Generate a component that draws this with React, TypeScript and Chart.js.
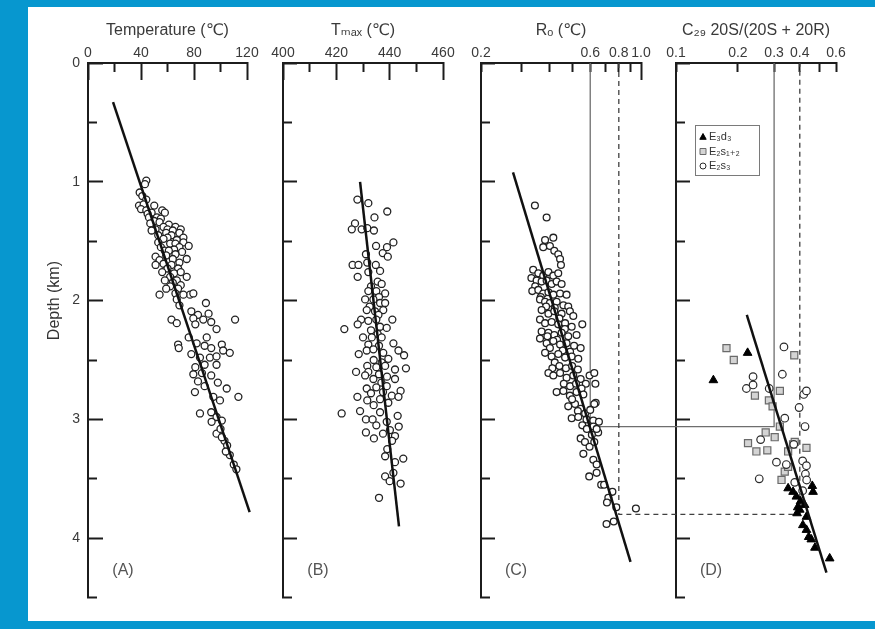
import React, { useEffect, useRef } from 'react';
import { Chart, registerables } from 'chart.js';

Chart.register(...registerables);

// ---------------- axis ticks / labels ----------------
const tempTickValues = [0, 20, 40, 60, 80, 100, 120];
const tempLabelValues = [0, 40, 80, 120];
const tmaxTickValues = [400, 410, 420, 430, 440, 450, 460];
const tmaxLabelValues = [400, 420, 440, 460];
const roTickValues = [0.2, 0.3, 0.4, 0.5, 0.6, 0.7, 0.8, 0.9, 1.0];
const roLabelValues = [0.2, 0.6, 0.8, 1.0];
const roLongValues = [1.0];
const c29TickValues = [0.1, 0.2, 0.3, 0.4, 0.5, 0.6];
const c29LabelValues = [0.1, 0.2, 0.3, 0.4, 0.6];
const depthTickValues = [0, 0.5, 1, 1.5, 2, 2.5, 3, 3.5, 4, 4.5];
const depthLabelValues = [0, 1, 2, 3, 4];

const panelTitles = ['Temperature (℃)', 'Tₘₐₓ (℃)', 'Rₒ (℃)', 'C₂₉ 20S/(20S + 20R)'];
const panelLetters = ['(A)', '(B)', '(C)', '(D)'];
const depthTitle = 'Depth (km)';
const legendLabels = ['E₃d₃', 'E₂s₁₊₂', 'E₂s₃'];

// ---------------- data: [x, depth km] ----------------
type Pt = [number, number];

const tempPoints: Pt[] = [
  [44, 0.99], [43, 1.02], [39, 1.09], [41, 1.12], [44, 1.15], [38.5, 1.2], [42, 1.19], [40, 1.23], [44, 1.24], [50, 1.2],
  [48, 1.26], [45, 1.27], [46, 1.3], [52, 1.3], [56, 1.24], [58, 1.26], [50, 1.33], [55, 1.31], [54, 1.34], [47, 1.35],
  [61, 1.36], [66, 1.38], [57, 1.38], [51, 1.4], [48, 1.41], [60, 1.4], [64, 1.41], [70, 1.4], [59, 1.43], [69, 1.43],
  [63, 1.45], [53, 1.45], [72, 1.47], [60, 1.47], [67, 1.49], [57, 1.48], [53, 1.51], [62, 1.52], [66, 1.52], [72, 1.51],
  [76, 1.54], [69, 1.55], [55, 1.55], [65, 1.57], [58, 1.58], [61, 1.58], [71, 1.59], [51, 1.63], [59, 1.62], [66, 1.61],
  [74.5, 1.65], [54, 1.66], [64, 1.65], [69, 1.68], [51, 1.7], [57, 1.69], [63, 1.7], [68, 1.73], [60, 1.73], [56, 1.76],
  [65, 1.77], [70, 1.76], [62, 1.8], [58, 1.83], [67, 1.83], [74.5, 1.8], [64, 1.85], [62, 1.88], [70, 1.87], [68, 1.9],
  [59, 1.9], [54, 1.95], [77, 1.95], [79.5, 1.94], [66, 1.94], [72, 1.95],
  [89, 2.02], [67, 1.99], [69, 2.04], [78, 2.09], [83, 2.12], [91, 2.11], [79.5, 2.15], [87, 2.16], [93, 2.18], [63, 2.16],
  [67, 2.19], [81, 2.2], [111, 2.16], [97, 2.24],
  [76, 2.31], [89.6, 2.31], [68, 2.37], [68.5, 2.4], [82, 2.36], [88, 2.38], [93, 2.4], [101, 2.37], [107, 2.44], [102, 2.42],
  [78, 2.45], [84.5, 2.48], [92, 2.48], [97, 2.47],
  [81, 2.56], [88, 2.54], [97, 2.54], [79.5, 2.62], [86, 2.61], [93, 2.63], [83, 2.68], [88, 2.72], [98, 2.69], [104.7, 2.74],
  [80.7, 2.77], [113.5, 2.81], [94.6, 2.81], [99.6, 2.84], [84.5, 2.95], [93, 2.94], [97, 2.98], [101, 3.01], [93.3, 3.02], [97, 3.12],
  [100, 3.08], [103, 3.18], [105, 3.22], [107, 3.3], [110, 3.38], [112, 3.42], [104, 3.27], [101, 3.15],
];

const tmaxPoints: Pt[] = [
  [427.9, 1.15], [432, 1.18], [439.1, 1.25], [434.3, 1.3], [427, 1.35], [425.8, 1.4], [429.5, 1.4], [431.6, 1.39], [434.1, 1.41],
  [441.4, 1.51], [434.9, 1.54], [439, 1.55], [437.4, 1.6], [431.1, 1.61], [439.3, 1.63], [426.1, 1.7], [428.3, 1.7], [431.6, 1.68],
  [434.8, 1.7], [428, 1.8], [432, 1.76], [436.4, 1.75], [435.5, 1.84], [437, 1.86], [433, 1.88], [432, 1.92], [435, 1.92],
  [438.3, 1.94], [436, 1.97], [430.8, 1.99], [433.9, 1.99], [436.4, 2.02], [438.3, 2.02], [432.5, 2.05], [431.4, 2.08], [434.5, 2.09],
  [437.6, 2.08], [435.8, 2.12], [441, 2.16], [429.3, 2.16], [428, 2.2], [423, 2.24], [432, 2.17], [435, 2.16], [436.4, 2.22],
  [438.9, 2.23], [433, 2.25], [435.5, 2.28], [430, 2.31], [433.3, 2.31], [437, 2.31], [432, 2.37], [436, 2.38], [441.4, 2.36],
  [443.3, 2.42], [445.4, 2.46], [428.4, 2.45], [431.4, 2.42], [433.9, 2.41], [437.6, 2.44], [439.5, 2.49], [434, 2.5], [437, 2.52],
  [427.4, 2.6], [431.6, 2.55], [435, 2.56], [438.3, 2.55], [442, 2.58], [446.1, 2.57], [432, 2.6], [436, 2.62], [439, 2.64],
  [430.8, 2.63], [433.9, 2.66], [442, 2.66], [436.9, 2.69], [431.4, 2.74], [435, 2.73], [438.9, 2.72], [444.1, 2.76], [433, 2.78],
  [437.5, 2.77], [427.9, 2.81], [431.6, 2.84], [436.4, 2.83], [440.8, 2.8], [443.3, 2.81], [434, 2.88], [439.5, 2.86], [422, 2.95],
  [428.9, 2.93], [431.1, 3.0], [433.6, 3.0], [436.4, 2.94], [438.9, 3.02], [443, 2.97], [435, 3.05], [437.5, 3.12], [431.1, 3.11],
  [434.1, 3.16], [440.1, 3.09], [443.4, 3.06], [442, 3.14], [440.9, 3.18], [439.1, 3.25], [438.3, 3.31], [442, 3.36], [445.1, 3.33],
  [438.3, 3.48], [440, 3.52], [441.4, 3.45], [444.1, 3.54], [436, 3.66],
];

const roPoints: Pt[] = [
  [0.344, 1.2], [0.387, 1.3], [0.414, 1.47], [0.381, 1.49], [0.374, 1.55], [0.4, 1.54], [0.418, 1.58], [0.435, 1.61], [0.443, 1.65],
  [0.447, 1.7], [0.338, 1.74], [0.356, 1.77], [0.374, 1.79], [0.394, 1.76], [0.414, 1.79], [0.435, 1.77], [0.332, 1.81], [0.35, 1.83],
  [0.368, 1.84], [0.387, 1.83], [0.407, 1.86], [0.428, 1.84], [0.45, 1.86], [0.345, 1.88], [0.335, 1.92], [0.356, 1.91], [0.374, 1.94],
  [0.394, 1.93], [0.414, 1.95], [0.443, 1.94], [0.473, 1.95], [0.365, 1.97], [0.362, 1.99], [0.381, 2.01], [0.4, 2.02], [0.428, 2.01],
  [0.458, 2.04], [0.481, 2.05], [0.385, 2.05], [0.42, 2.06], [0.368, 2.08], [0.394, 2.11], [0.418, 2.09], [0.45, 2.11], [0.489, 2.09],
  [0.506, 2.13], [0.44, 2.15], [0.362, 2.16], [0.381, 2.19], [0.407, 2.18], [0.435, 2.2], [0.466, 2.19], [0.498, 2.22], [0.554, 2.2],
  [0.465, 2.24], [0.368, 2.26], [0.394, 2.27], [0.418, 2.29], [0.45, 2.27], [0.481, 2.3], [0.523, 2.29], [0.39, 2.3], [0.362, 2.32],
  [0.43, 2.33], [0.387, 2.36], [0.414, 2.34], [0.443, 2.37], [0.473, 2.36], [0.51, 2.38], [0.545, 2.4], [0.4, 2.4], [0.455, 2.42],
  [0.49, 2.43], [0.381, 2.44], [0.407, 2.47], [0.435, 2.45], [0.466, 2.48], [0.498, 2.47], [0.532, 2.49], [0.42, 2.52], [0.44, 2.55],
  [0.47, 2.57], [0.5, 2.55], [0.53, 2.58], [0.41, 2.57], [0.394, 2.61], [0.414, 2.63], [0.443, 2.61], [0.473, 2.65], [0.506, 2.63],
  [0.545, 2.66], [0.574, 2.7], [0.596, 2.63], [0.625, 2.61], [0.632, 2.7], [0.46, 2.7], [0.49, 2.72], [0.52, 2.7], [0.55, 2.74],
  [0.428, 2.77], [0.458, 2.76], [0.489, 2.8], [0.523, 2.77], [0.56, 2.79], [0.634, 2.86], [0.625, 2.87], [0.481, 2.89], [0.515, 2.87],
  [0.545, 2.91], [0.5, 2.83], [0.53, 2.93], [0.57, 2.95], [0.6, 2.92], [0.498, 2.99], [0.532, 2.98], [0.578, 3.0], [0.619, 3.01],
  [0.655, 3.02], [0.554, 3.05], [0.619, 3.06], [0.65, 3.11], [0.64, 3.08], [0.58, 3.08], [0.61, 3.13], [0.545, 3.16], [0.569, 3.19],
  [0.56, 3.29], [0.596, 3.23], [0.625, 3.19], [0.619, 3.34], [0.64, 3.38], [0.594, 3.48], [0.64, 3.45], [0.67, 3.55], [0.69, 3.55],
  [0.75, 3.61], [0.72, 3.66], [0.71, 3.7], [0.78, 3.74], [0.95, 3.75], [0.707, 3.88], [0.76, 3.86],
];

const c29TrianglePoints: Pt[] = [
  [0.223, 2.44], [0.152, 2.67], [0.351, 3.58], [0.371, 3.61], [0.46, 3.56], [0.464, 3.61], [0.385, 3.65], [0.403, 3.69],
  [0.422, 3.72], [0.391, 3.74], [0.4, 3.76], [0.388, 3.79], [0.431, 3.82], [0.414, 3.89], [0.431, 3.93], [0.442, 3.99],
  [0.455, 4.01], [0.474, 4.08], [0.559, 4.17],
];
const c29SquarePoints: Pt[] = [
  [0.176, 2.4], [0.191, 2.5], [0.376, 2.46], [0.242, 2.8], [0.32, 2.76], [0.283, 2.84], [0.295, 2.89], [0.32, 3.06], [0.273, 3.11],
  [0.224, 3.2], [0.246, 3.27], [0.278, 3.26], [0.302, 3.15], [0.351, 3.27], [0.371, 3.21], [0.431, 3.24], [0.326, 3.51],
  [0.338, 3.44], [0.351, 3.4], [0.378, 3.19],
];
const c29CirclePoints: Pt[] = [
  [0.335, 2.39], [0.329, 2.62], [0.237, 2.64], [0.22, 2.74], [0.237, 2.71], [0.284, 2.74], [0.418, 2.79], [0.431, 2.76],
  [0.397, 2.9], [0.338, 2.99], [0.424, 3.06], [0.258, 3.17], [0.374, 3.21], [0.308, 3.36], [0.413, 3.35], [0.431, 3.39],
  [0.426, 3.46], [0.432, 3.51], [0.254, 3.5], [0.344, 3.38], [0.378, 3.53], [0.413, 3.6],
];

// trend lines
const tempTrend: Pt[] = [[18.9, 0.33], [122, 3.78]];
const tmaxTrend: Pt[] = [[428.9, 1.0], [443.5, 3.9]];
const roTrend: Pt[] = [[0.276, 0.92], [0.9, 4.2]];
const c29Trend: Pt[] = [[0.221, 2.12], [0.539, 4.29]];

// guide lines linking panel C and D (Ro value, C29 value, depth)
const guideRo = [0.6, 0.8];
const guideC29 = [0.3, 0.4];
const guideDepth = [3.06, 3.8];
const letterDepth = 4.27;

// ---------------- styling ----------------
const AXIS = '#1c1c1c';
const TEXT = '#3a3a3a';
const FONT = "'Liberation Sans', Arial, 'DejaVu Sans', sans-serif";
const TOP_H = 63;
const LEFT_W = 88;

const toXY = (pts: Pt[]) => pts.map(([x, y]) => ({ x, y }));

function topAxis(
  type: string, min: number, max: number, weight: number,
  tickValues: number[], labelValues: number[], longValues: number[], title: string, digits: number,
) {
  const isShort = (c: any) => c && c.tick && !longValues.includes(c.tick.value);
  return {
    type, axis: 'x', position: 'top', stack: 'panels', stackWeight: weight,
    min, max, bounds: 'data', offset: false,
    afterBuildTicks: (s: any) => { s.ticks = tickValues.map((value) => ({ value })); },
    afterFit: (s: any) => { s.height = TOP_H; },
    border: { display: true, color: AXIS, width: 2 },
    grid: {
      display: true, drawOnChartArea: false, drawTicks: true, tickLength: -17, tickWidth: 2, tickColor: AXIS,
      tickBorderDash: (c: any) => (isShort(c) ? [10, 100] : []),
      tickBorderDashOffset: (c: any) => (isShort(c) ? 102 : 0),
    },
    ticks: {
      autoSkip: false, maxRotation: 0, minRotation: 0, padding: 18, color: TEXT,
      font: { family: FONT, size: 14 },
      callback: (v: any) => (labelValues.includes(Number(v)) ? Number(v).toFixed(digits) : ''),
    },
    title: {
      display: true, text: title, color: TEXT,
      font: { family: FONT, size: 16 }, padding: { top: 21, bottom: 0 },
    },
  };
}

function gapAxis(weight: number) {
  return {
    type: 'linear', axis: 'x', position: 'top', stack: 'panels', stackWeight: weight,
    display: false, min: 0, max: 1,
    afterFit: (s: any) => { s.height = 0; },
  };
}

function depthAxis(position: any, labelled: boolean) {
  const isShort = (c: any) => c && c.tick && !depthLabelValues.includes(c.tick.value);
  const cfg: any = {
    type: 'linear', axis: 'y', position, min: 0, max: 4.5, reverse: true, bounds: 'data',
    afterBuildTicks: (s: any) => { s.ticks = depthTickValues.map((value) => ({ value })); },
    border: { display: true, color: AXIS, width: 2 },
    grid: {
      display: true, drawOnChartArea: false, drawTicks: true, tickLength: -15, tickWidth: 2, tickColor: AXIS,
      tickBorderDash: (c: any) => (isShort(c) ? [10, 100] : []),
      tickBorderDashOffset: (c: any) => (isShort(c) ? (labelled ? 104 : 0) : 0),
    },
    ticks: {
      display: labelled, autoSkip: false, padding: 23, color: TEXT,
      font: { family: FONT, size: 14 },
      callback: (v: any) => (depthLabelValues.includes(Number(v)) ? String(v) : ''),
    },
  };
  if (labelled) cfg.afterFit = (s: any) => { s.width = LEFT_W; };
  return cfg;
}

const circleStyle = {
  pointStyle: 'circle', pointRadius: 3.5, pointBorderWidth: 1.3,
  pointBorderColor: '#222', pointBackgroundColor: '#ffffff', order: 2, clip: false,
};
const trendStyle = {
  showLine: true, pointRadius: 0, borderColor: '#111', borderWidth: 2.5, order: 0, fill: false, clip: false,
};

const panelPlugin = {
  id: 'panelPlugin',
  beforeDatasetsDraw(chart: any) {
    const { ctx, scales } = chart;
    const y = scales.yA;
    guideDepth.forEach((d, i) => {
      const xa = scales.xC.getPixelForValue(guideRo[i]);
      const xb = scales.xD.getPixelForValue(guideC29[i]);
      const y0 = y.getPixelForValue(0);
      const y1 = y.getPixelForValue(d);
      ctx.save();
      ctx.strokeStyle = i === 0 ? '#6e6e6e' : '#404040';
      ctx.lineWidth = 1.3;
      ctx.setLineDash(i === 0 ? [] : [5, 4]);
      ctx.beginPath();
      ctx.moveTo(xa, y0);
      ctx.lineTo(xa, y1);
      ctx.lineTo(xb, y1);
      ctx.lineTo(xb, y0);
      ctx.stroke();
      ctx.restore();
    });
  },
  afterDraw(chart: any) {
    const { ctx, scales, chartArea } = chart;
    const y = scales.yA;
    ctx.save();
    ctx.fillStyle = '#333';
    ctx.font = `16px ${FONT}`;
    ctx.textAlign = 'center';
    ctx.textBaseline = 'middle';
    ctx.translate(chartArea.left - 33, y.getPixelForValue(2));
    ctx.rotate(-Math.PI / 2);
    ctx.fillText(depthTitle, 0, 0);
    ctx.restore();

    ctx.save();
    ctx.fillStyle = '#555';
    ctx.font = `16px ${FONT}`;
    ctx.textAlign = 'center';
    ctx.textBaseline = 'middle';
    ['xA', 'xB', 'xC', 'xD'].forEach((id, i) => {
      ctx.fillText(panelLetters[i], scales[id].left + 35, y.getPixelForValue(letterDepth));
    });
    ctx.restore();

    // legend inside panel D
    const lx = scales.xD.left + 19;
    const ly = chartArea.top + 62;
    ctx.save();
    ctx.fillStyle = '#fff';
    ctx.fillRect(lx, ly, 64, 50);
    ctx.strokeStyle = '#7a7a7a';
    ctx.lineWidth = 1;
    ctx.strokeRect(lx + 0.5, ly + 0.5, 64, 50);
    const ds = chart.data.datasets.filter((d: any) => legendLabels.includes(d.label));
    legendLabels.forEach((lab, i) => {
      const d = ds.find((q: any) => q.label === lab);
      const cx = lx + 8;
      const cy = ly + 12 + i * 14.5;
      ctx.fillStyle = d.pointBackgroundColor;
      ctx.strokeStyle = d.pointBorderColor;
      ctx.lineWidth = 1;
      ctx.beginPath();
      if (d.pointStyle === 'triangle') {
        ctx.moveTo(cx, cy - 3.5);
        ctx.lineTo(cx + 3.2, cy + 2.3);
        ctx.lineTo(cx - 3.2, cy + 2.3);
        ctx.closePath();
      } else if (d.pointStyle === 'rect') {
        ctx.rect(cx - 3, cy - 3, 6, 6);
      } else {
        ctx.arc(cx, cy, 3, 0, Math.PI * 2);
      }
      ctx.fill();
      ctx.stroke();
      ctx.fillStyle = '#333';
      ctx.font = `11px ${FONT}`;
      ctx.textAlign = 'left';
      ctx.textBaseline = 'middle';
      ctx.fillText(lab, lx + 14, cy);
    });
    ctx.restore();
  },
};

export default function App() {
  const ref = useRef<HTMLCanvasElement>(null);

  useEffect(() => {
    if (!ref.current) return;
    const chart = new Chart(ref.current, {
      type: 'scatter',
      data: {
        datasets: [
          { label: 'T trend', data: toXY(tempTrend), xAxisID: 'xA', yAxisID: 'yA', ...trendStyle },
          { label: 'Tmax trend', data: toXY(tmaxTrend), xAxisID: 'xB', yAxisID: 'yA', ...trendStyle },
          { label: 'Ro trend', data: toXY(roTrend), xAxisID: 'xC', yAxisID: 'yA', ...trendStyle },
          { label: 'C29 trend', data: toXY(c29Trend), xAxisID: 'xD', yAxisID: 'yA', ...trendStyle },
          { label: 'Temperature', data: toXY(tempPoints), xAxisID: 'xA', yAxisID: 'yA', ...circleStyle },
          { label: 'Tmax', data: toXY(tmaxPoints), xAxisID: 'xB', yAxisID: 'yA', ...circleStyle },
          { label: 'Ro', data: toXY(roPoints), xAxisID: 'xC', yAxisID: 'yA', ...circleStyle, pointRadius: 3.4 },
          {
            label: legendLabels[1], data: toXY(c29SquarePoints), xAxisID: 'xD', yAxisID: 'yA',
            pointStyle: 'rect', pointRadius: 5, pointBorderWidth: 1.2,
            pointBorderColor: '#6a6a6a', pointBackgroundColor: '#d4d4d4', order: 3, clip: false,
          },
          {
            label: legendLabels[2], data: toXY(c29CirclePoints), xAxisID: 'xD', yAxisID: 'yA',
            pointStyle: 'circle', pointRadius: 3.8, pointBorderWidth: 1.2,
            pointBorderColor: '#2a2a2a', pointBackgroundColor: '#ffffff', order: 2, clip: false,
          },
          {
            label: legendLabels[0], data: toXY(c29TrianglePoints), xAxisID: 'xD', yAxisID: 'yA',
            pointStyle: 'triangle', pointRadius: 5, pointBorderWidth: 1,
            pointBorderColor: '#000000', pointBackgroundColor: '#000000', order: 1, clip: false,
          },
        ],
      } as any,
      options: {
        responsive: false,
        maintainAspectRatio: false,
        animation: false,
        devicePixelRatio: 1,
        events: [],
        layout: { padding: { top: 0, left: 0, right: 39, bottom: 24 } },
        plugins: { legend: { display: false }, tooltip: { enabled: false }, title: { display: false } },
        // top axes of a stack are laid out right-to-left in definition order, so list D first
        scales: {
          xD: topAxis('logarithmic', 0.1, 0.6, 160, c29TickValues, c29LabelValues, [], panelTitles[3], 1),
          g3: gapAxis(35),
          xC: topAxis('logarithmic', 0.2, 1.0, 160, roTickValues, roLabelValues, roLongValues, panelTitles[2], 1),
          g2: gapAxis(38),
          xB: topAxis('linear', 400, 460, 160, tmaxTickValues, tmaxLabelValues, tmaxLabelValues, panelTitles[1], 0),
          g1: gapAxis(36),
          xA: topAxis('linear', 0, 120, 159, tempTickValues, tempLabelValues, tempLabelValues, panelTitles[0], 0),
          yA: depthAxis('left', true),
          yB: depthAxis({ xB: 400 }, false),
          yC: depthAxis({ xC: 0.2 }, false),
          yD: depthAxis({ xD: 0.1 }, false),
        } as any,
      },
      plugins: [panelPlugin as any],
    });
    return () => chart.destroy();
  }, []);

  return (
    <div style={{ position: 'fixed', left: 0, top: 0, width: 875, height: 629, background: '#0797cf', overflow: 'hidden' }}>
      <div style={{ position: 'absolute', left: 28, top: 7, width: 847, height: 614, background: '#ffffff' }} />
      <canvas ref={ref} width={875} height={629} style={{ position: 'absolute', left: 0, top: 0, width: 875, height: 629 }} />
    </div>
  );
}
